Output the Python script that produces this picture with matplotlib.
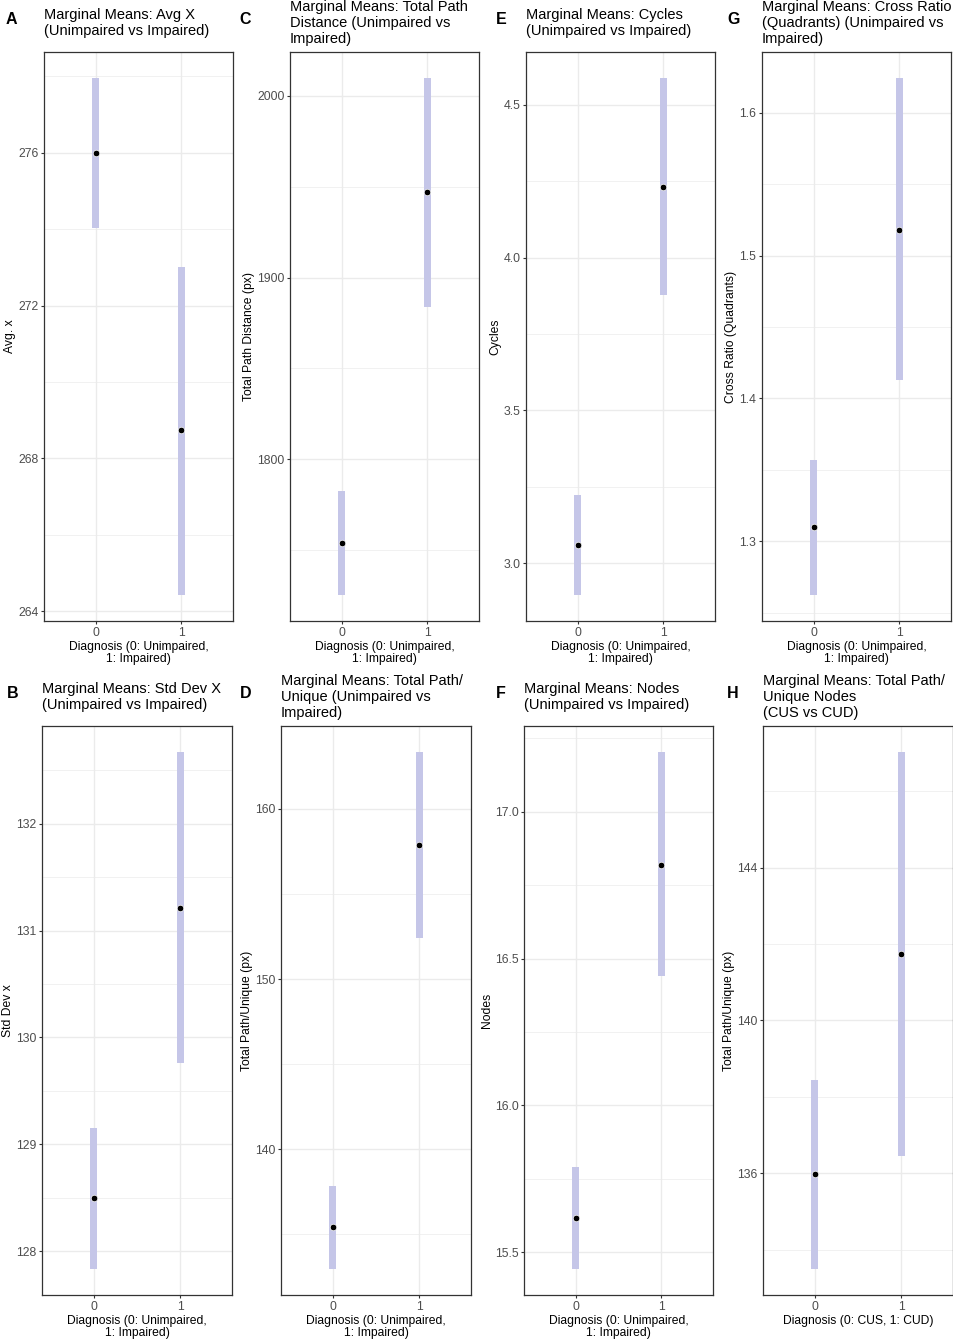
import numpy as np
import matplotlib
matplotlib.use("Agg")
import matplotlib.pyplot as plt

plt.rcParams['font.family'] = ['Liberation Sans', 'DejaVu Sans']

# panel data: letter, title, y label, x label, mean, lower, upper, y ticks
letters = ["A", "C", "E", "G", "B", "D", "F", "H"]
titles = [
    "Marginal Means: Avg X\n(Unimpaired vs Impaired)",
    "Marginal Means: Total Path\nDistance (Unimpaired vs\nImpaired)",
    "Marginal Means: Cycles\n(Unimpaired vs Impaired)",
    "Marginal Means: Cross Ratio\n(Quadrants) (Unimpaired vs\nImpaired)",
    "Marginal Means: Std Dev X\n(Unimpaired vs Impaired)",
    "Marginal Means: Total Path/\nUnique (Unimpaired vs\nImpaired)",
    "Marginal Means: Nodes\n(Unimpaired vs Impaired)",
    "Marginal Means: Total Path/\nUnique Nodes\n(CUS vs CUD)",
]
ylabels = ["Avg. x", "Total Path Distance (px)", "Cycles", "Cross Ratio (Quadrants)",
           "Std Dev x", "Total Path/Unique (px)", "Nodes", "Total Path/Unique (px)"]
xlabels = ["Diagnosis (0: Unimpaired,\n1: Impaired)"] * 7 + ["Diagnosis (0: CUS, 1: CUD)"]

diagnosis = [0, 1]
means = [
    [276.0, 268.73],
    [1753.8, 1947.3],
    [3.059, 4.232],
    [1.3098, 1.518],
    [128.495, 131.215],
    [135.43, 157.89],
    [15.616, 16.82],
    [135.97, 141.73],
]
lowers = [
    [274.04, 264.42],
    [1725.3, 1884.1],
    [2.895, 3.876],
    [1.2622, 1.4126],
    [127.832, 129.757],
    [132.96, 152.43],
    [15.442, 16.439],
    [133.49, 136.44],
]
uppers = [
    [277.96, 273.02],
    [1782.4, 2009.9],
    [3.222, 4.588],
    [1.357, 1.6245],
    [129.15, 132.673],
    [137.83, 163.34],
    [15.789, 17.204],
    [138.43, 147.03],
]
yticks = [
    [264, 268, 272, 276],
    [1800, 1900, 2000],
    [3.0, 3.5, 4.0, 4.5],
    [1.3, 1.4, 1.5, 1.6],
    [128, 129, 130, 131, 132],
    [140, 150, 160],
    [15.5, 16.0, 16.5, 17.0],
    [136, 140, 144],
]
ytick_fmt = ["%d", "%d", "%.1f", "%.1f", "%d", "%d", "%.1f", "%d"]

# axes boxes in pixels: left, right, top, bottom
W, H = 954, 1339
boxes = [
    (44, 233, 52, 621), (290, 479, 52, 621), (526, 715, 52, 621), (762, 951, 52, 621),
    (42, 232, 726, 1295), (281, 471, 726, 1295), (524, 713, 726, 1295), (763, 953, 726, 1295),
]
letter_x = [6, 239, 496, 727, 7, 240, 496, 727]

fig = plt.figure(figsize=(W / 100, H / 100), dpi=100)

grid_col = "#ebebeb"
band_col = "#c5c6e8"

for i in range(8):
    l, r, t, b = boxes[i]
    ax = fig.add_axes([l / W, 1 - b / H, (r - l) / W, (b - t) / H])
    lo = np.array(lowers[i]); hi = np.array(uppers[i]); mu = np.array(means[i])
    ax.bar(diagnosis, hi - lo, bottom=lo, width=0.085, color=band_col, zorder=2)
    ax.scatter(diagnosis, mu, s=22, color="black", edgecolors="white", linewidths=0.5, zorder=3)

    tks = yticks[i]
    ax.set_yticks(tks)
    ax.set_yticklabels([ytick_fmt[i] % v for v in tks])
    step = tks[1] - tks[0]
    minors = [v - step / 2 for v in tks] + [tks[-1] + step / 2]
    ax.set_yticks(minors, minor=True)
    ax.set_xticks(diagnosis)
    ax.set_xticklabels(["0", "1"])

    # ggplot style 5% expansion around the data
    ymin = min(lo.min(), mu.min()); ymax = max(hi.max(), mu.max())
    span = ymax - ymin
    ax.set_ylim(ymin - 0.05 * span, ymax + 0.05 * span)
    ax.set_xlim(-0.6, 1.6)

    ax.grid(True, which="major", color=grid_col, lw=1.0, zorder=0)
    ax.grid(True, which="minor", axis="y", color=grid_col, lw=0.5, zorder=0)
    ax.set_axisbelow(True)
    ax.tick_params(which="minor", length=0)
    ax.tick_params(which="major", length=2.5, width=0.8, color="#333333",
                   labelsize=8.8, labelcolor="#4d4d4d", pad=1.5)
    for s in ax.spines.values():
        s.set_color("#333333")
        s.set_linewidth(0.9)

    ax.set_ylabel(ylabels[i], fontsize=8.7, labelpad=1.5)
    ax.set_xlabel(xlabels[i], fontsize=8.7, labelpad=2, linespacing=1.0)

    # titles are vertically centred in the strip above the panel
    fig.text(l / W, 1 - (t - 29) / H, titles[i], ha="left", va="center",
             fontsize=10.5, linespacing=1.2)
    fig.text(letter_x[i] / W, 1 - (t - 32) / H, letters[i], fontsize=11.5, fontweight="bold",
             ha="left", va="center")

fig.savefig("out.png", dpi=100, facecolor="white")
